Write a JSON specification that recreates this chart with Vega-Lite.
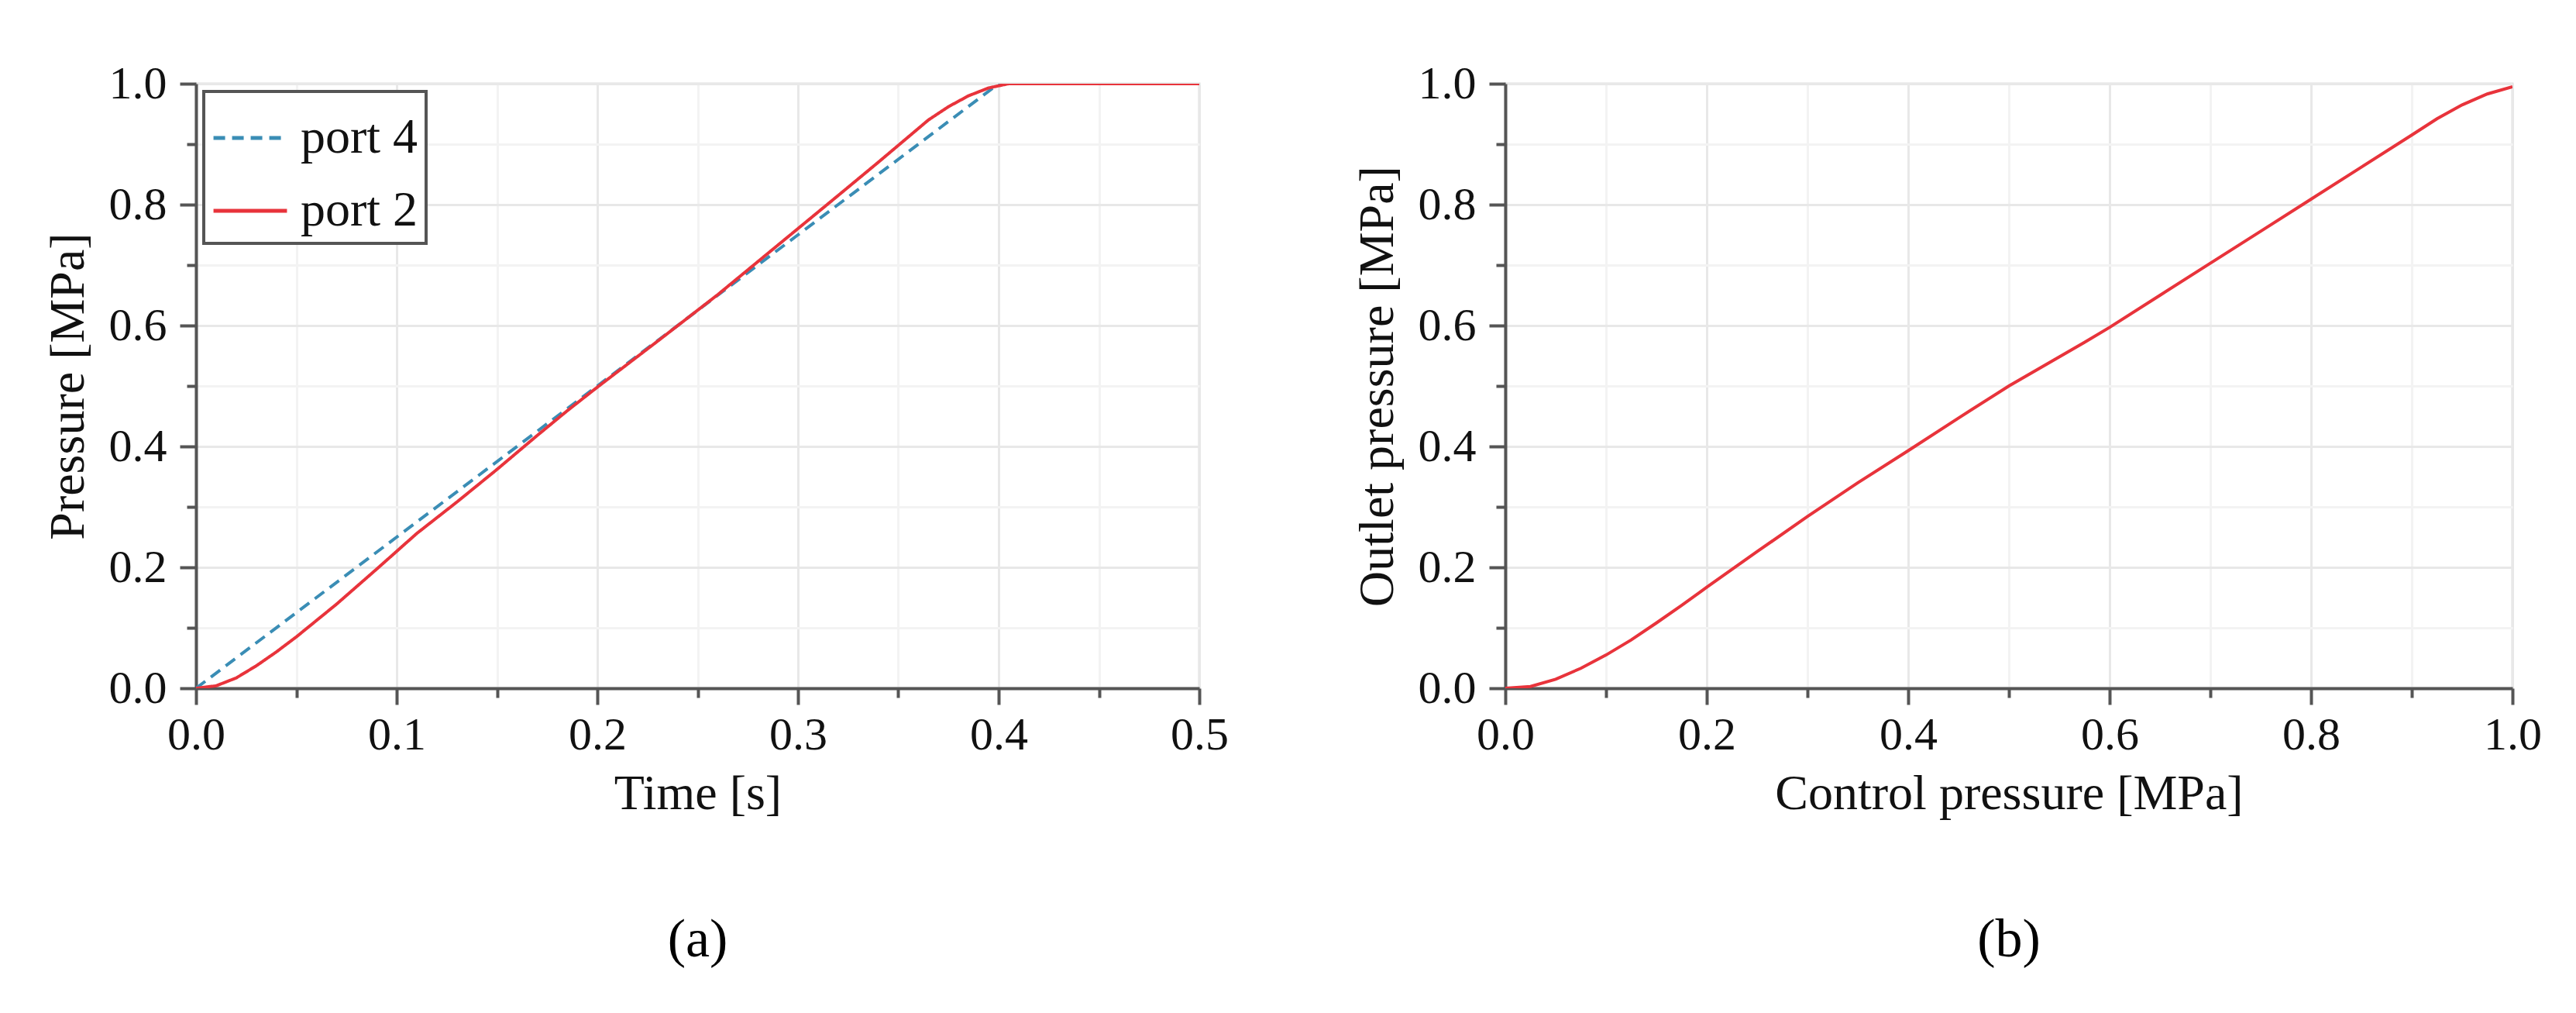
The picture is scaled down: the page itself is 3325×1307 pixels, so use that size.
{
  "$schema": "https://vega.github.io/schema/vega-lite/v6.json",
  "background": "white",
  "padding": {"left": 54, "top": 76, "right": 20, "bottom": 20},
  "config": {
    "font": "Liberation Serif",
    "view": {"stroke": "#dddddd", "strokeWidth": 3},
    "axis": {
      "domainColor": "#555555", "domainWidth": 4, "tickColor": "#555555", "tickWidth": 4,
      "labelFontSize": 60, "labelColor": "#111111", "labelFont": "Liberation Serif",
      "titleFontSize": 64, "titleFontWeight": "normal", "titleColor": "#111111", "titleFont": "Liberation Serif",
      "grid": true, "labelOverlap": false, "labelFlush": false
    },
    "title": {"font": "Liberation Serif", "fontSize": 70, "fontWeight": "normal", "color": "#000000"}
  },
  "datasets": {
    "portData": [
      {"t": 0, "p": 0, "s": "port 4"},
      {"t": 0.1, "p": 0.25, "s": "port 4"},
      {"t": 0.2, "p": 0.5, "s": "port 4"},
      {"t": 0.3, "p": 0.75, "s": "port 4"},
      {"t": 0.4, "p": 1.0, "s": "port 4"},
      {"t": 0.5, "p": 1.0, "s": "port 4"},
      {"t": 0, "p": 0, "s": "port 2"},
      {"t": 0.01, "p": 0.004, "s": "port 2"},
      {"t": 0.02, "p": 0.017, "s": "port 2"},
      {"t": 0.03, "p": 0.037, "s": "port 2"},
      {"t": 0.04, "p": 0.06, "s": "port 2"},
      {"t": 0.05, "p": 0.085, "s": "port 2"},
      {"t": 0.07, "p": 0.139, "s": "port 2"},
      {"t": 0.09, "p": 0.197, "s": "port 2"},
      {"t": 0.11, "p": 0.256, "s": "port 2"},
      {"t": 0.13, "p": 0.308, "s": "port 2"},
      {"t": 0.15, "p": 0.362, "s": "port 2"},
      {"t": 0.17, "p": 0.418, "s": "port 2"},
      {"t": 0.185, "p": 0.459, "s": "port 2"},
      {"t": 0.2, "p": 0.498, "s": "port 2"},
      {"t": 0.23, "p": 0.574, "s": "port 2"},
      {"t": 0.26, "p": 0.651, "s": "port 2"},
      {"t": 0.29, "p": 0.733, "s": "port 2"},
      {"t": 0.32, "p": 0.815, "s": "port 2"},
      {"t": 0.34, "p": 0.87, "s": "port 2"},
      {"t": 0.355, "p": 0.912, "s": "port 2"},
      {"t": 0.365, "p": 0.94, "s": "port 2"},
      {"t": 0.375, "p": 0.962, "s": "port 2"},
      {"t": 0.385, "p": 0.98, "s": "port 2"},
      {"t": 0.395, "p": 0.993, "s": "port 2"},
      {"t": 0.405, "p": 1.0, "s": "port 2"},
      {"t": 0.5, "p": 1.0, "s": "port 2"}
    ],
    "outletData": [
      {"c": 0, "o": 0},
      {"c": 0.025, "o": 0.003},
      {"c": 0.05, "o": 0.015},
      {"c": 0.075, "o": 0.033},
      {"c": 0.1, "o": 0.055},
      {"c": 0.125, "o": 0.08},
      {"c": 0.15, "o": 0.108},
      {"c": 0.175, "o": 0.137},
      {"c": 0.2, "o": 0.167},
      {"c": 0.25, "o": 0.226},
      {"c": 0.3, "o": 0.284},
      {"c": 0.35, "o": 0.34},
      {"c": 0.4, "o": 0.393},
      {"c": 0.45, "o": 0.447},
      {"c": 0.5, "o": 0.5},
      {"c": 0.55, "o": 0.548},
      {"c": 0.575, "o": 0.572},
      {"c": 0.6, "o": 0.597},
      {"c": 0.65, "o": 0.65},
      {"c": 0.7, "o": 0.703},
      {"c": 0.75, "o": 0.756},
      {"c": 0.8, "o": 0.809},
      {"c": 0.85, "o": 0.862},
      {"c": 0.9, "o": 0.915},
      {"c": 0.925, "o": 0.942},
      {"c": 0.95, "o": 0.965},
      {"c": 0.975, "o": 0.983},
      {"c": 1.0, "o": 0.995}
    ]
  },
  "hconcat": [
    {
      "width": 1295, "height": 780,
      "title": {"text": "(a)", "orient": "bottom", "anchor": "middle", "offset": 123},
      "data": {"name": "portData"},
      "mark": {"type": "line", "strokeWidth": 4, "clip": true},
      "encoding": {
        "x": {"field": "t", "type": "quantitative", "scale": {"domain": [0, 0.5], "nice": false},
          "axis": {"title": "Time [s]", "values": [0,0.05,0.1,0.15,0.2,0.25,0.3,0.35,0.4,0.45,0.5],
            "labelExpr": "abs(datum.value*10 - round(datum.value*10)) < 0.001 ? format(datum.value, '.1f') : ''",
            "tickSize": {"condition": {"test": "abs(datum.value*10 - round(datum.value*10)) < 0.001", "value": 21}, "value": 12},
            "gridColor": {"condition": {"test": "abs(datum.value*10 - round(datum.value*10)) < 0.001", "value": "#e8e8e8"}, "value": "#f3f3f3"},
            "gridWidth": 3, "labelPadding": 10, "titlePadding": 14}},
        "y": {"field": "p", "type": "quantitative", "scale": {"domain": [0, 1], "nice": false},
          "axis": {"title": "Pressure [MPa]", "values": [0,0.1,0.2,0.3,0.4,0.5,0.6,0.7,0.8,0.9,1.0],
            "labelExpr": "abs(datum.value*5 - round(datum.value*5)) < 0.001 ? format(datum.value, '.1f') : ''",
            "tickSize": {"condition": {"test": "abs(datum.value*5 - round(datum.value*5)) < 0.001", "value": 21}, "value": 12},
            "gridColor": {"condition": {"test": "abs(datum.value*5 - round(datum.value*5)) < 0.001", "value": "#e8e8e8"}, "value": "#f3f3f3"},
            "gridWidth": 3, "labelPadding": 17, "titlePadding": 20}},
        "color": {"field": "s", "type": "nominal", "sort": ["port 4", "port 2"],
          "scale": {"domain": ["port 4", "port 2"], "range": ["#3a8db5", "#e8333b"]},
          "legend": {"title": null, "orient": "top-left", "offset": 10, "symbolType": "stroke", "symbolSize": 9000,
            "symbolStrokeWidth": 5, "labelFontSize": 64, "labelFont": "Liberation Serif", "labelColor": "#111111",
            "labelOffset": 15, "padding": 10, "rowPadding": 12, "strokeColor": "#555555", "fillColor": "white",
            "labelLimit": 400,
            "encode": {"legend": {"update": {"strokeWidth": {"value": 4}}}}}},
        "strokeDash": {"field": "s", "type": "nominal", "sort": ["port 4", "port 2"],
          "scale": {"domain": ["port 4", "port 2"], "range": [[15, 9], [1, 0]]},
          "legend": {"title": null, "orient": "top-left", "offset": 10, "symbolType": "stroke", "symbolSize": 9000,
            "symbolStrokeWidth": 5, "labelFontSize": 64, "labelFont": "Liberation Serif", "labelColor": "#111111",
            "labelOffset": 15, "padding": 10, "rowPadding": 12, "strokeColor": "#555555", "fillColor": "white",
            "labelLimit": 400,
            "encode": {"legend": {"update": {"strokeWidth": {"value": 4}}}}}}
      }
    },
    {
      "width": 1300, "height": 780,
      "title": {"text": "(b)", "orient": "bottom", "anchor": "middle", "offset": 123},
      "data": {"name": "outletData"},
      "mark": {"type": "line", "strokeWidth": 4, "color": "#e8333b", "clip": true},
      "encoding": {
        "x": {"field": "c", "type": "quantitative", "scale": {"domain": [0, 1], "nice": false},
          "axis": {"title": "Control pressure [MPa]", "values": [0,0.1,0.2,0.3,0.4,0.5,0.6,0.7,0.8,0.9,1.0],
            "labelExpr": "abs(datum.value*5 - round(datum.value*5)) < 0.001 ? format(datum.value, '.1f') : ''",
            "tickSize": {"condition": {"test": "abs(datum.value*5 - round(datum.value*5)) < 0.001", "value": 21}, "value": 12},
            "gridColor": {"condition": {"test": "abs(datum.value*5 - round(datum.value*5)) < 0.001", "value": "#e8e8e8"}, "value": "#f3f3f3"},
            "gridWidth": 3, "labelPadding": 10, "titlePadding": 14}},
        "y": {"field": "o", "type": "quantitative", "scale": {"domain": [0, 1], "nice": false},
          "axis": {"title": "Outlet pressure [MPa]", "values": [0,0.1,0.2,0.3,0.4,0.5,0.6,0.7,0.8,0.9,1.0],
            "labelExpr": "abs(datum.value*5 - round(datum.value*5)) < 0.001 ? format(datum.value, '.1f') : ''",
            "tickSize": {"condition": {"test": "abs(datum.value*5 - round(datum.value*5)) < 0.001", "value": 21}, "value": 12},
            "gridColor": {"condition": {"test": "abs(datum.value*5 - round(datum.value*5)) < 0.001", "value": "#e8e8e8"}, "value": "#f3f3f3"},
            "gridWidth": 3, "labelPadding": 17, "titlePadding": 20}}
      }
    }
  ],
  "spacing": 157
}
